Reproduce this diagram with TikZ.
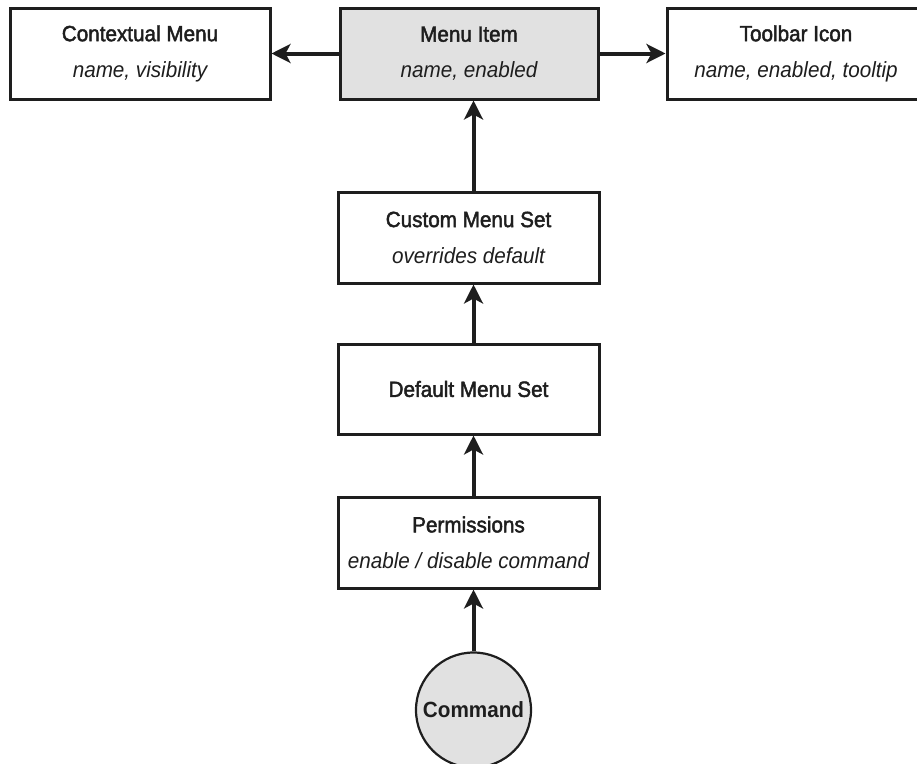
\documentclass[tikz,border=0pt]{standalone}
\usepackage{fontspec}
\setmainfont{Liberation Sans}[FakeStretch=0.94]
\newfontfamily\ttlfont{Liberation Sans}[FakeStretch=0.94,FakeBold=2]
\usetikzlibrary{arrows.meta,calc}
\definecolor{boxgray}{HTML}{E1E1E1}
\definecolor{ink}{HTML}{1E1E1E}
\tikzset{
  x=1pt,y=1pt,
  box/.style={draw=ink,line width=3pt,fill=white,minimum height=91pt,align=center,inner sep=0pt,
    font=\fontsize{22pt}{26pt}\selectfont,text=ink},
  graybox/.style={box,fill=boxgray},
  arr/.style={draw=ink,line width=4pt,-{Stealth[length=19pt,width=19pt,inset=5pt]}},
}
\newcommand{\two}[2]{{\ttlfont #1}\\[10pt]{\itshape #2}}
\begin{document}
\begin{tikzpicture}
\useasboundingbox (0,0) rectangle (917,-763);
\clip (0,0) rectangle (917,-763);
\node[box,minimum width=260pt] (ctx) at (140,-53.5) {\two{Contextual Menu}{name, visibility}};
\node[graybox,minimum width=258pt] (item) at (469,-53.5) {\two{Menu Item}{name, enabled}};
\node[box,minimum width=258pt] (tool) at (796,-53.5) {\two{Toolbar Icon}{name, enabled, tooltip}};
\node[box,minimum width=261pt] (custom) at (468.5,-237.5) {\two{Custom Menu Set}{overrides default}};
\node[box,minimum width=261pt,minimum height=90pt] (default) at (468.5,-389) {{\ttlfont Default Menu Set}};
\node[box,minimum width=261pt] (perm) at (468.5,-542.5) {\two{Permissions}{enable / disable command}};
\node[circle,draw=ink,line width=2.2pt,fill=boxgray,minimum size=115pt,inner sep=0pt,
  font=\fontsize{22pt}{26pt}\selectfont\bfseries,text=ink] (cmd) at (473.5,-710) {Command};
\draw[arr] (item.west) -- (ctx.east);
\draw[arr] (item.east) -- (tool.west);
\draw[arr] (cmd.north) -- (cmd.north |- perm.south);
\draw[arr] (cmd.north |- perm.north) -- (cmd.north |- default.south);
\draw[arr] (cmd.north |- default.north) -- (cmd.north |- custom.south);
\draw[arr] (cmd.north |- custom.north) -- (cmd.north |- item.south);
\end{tikzpicture}
\end{document}
